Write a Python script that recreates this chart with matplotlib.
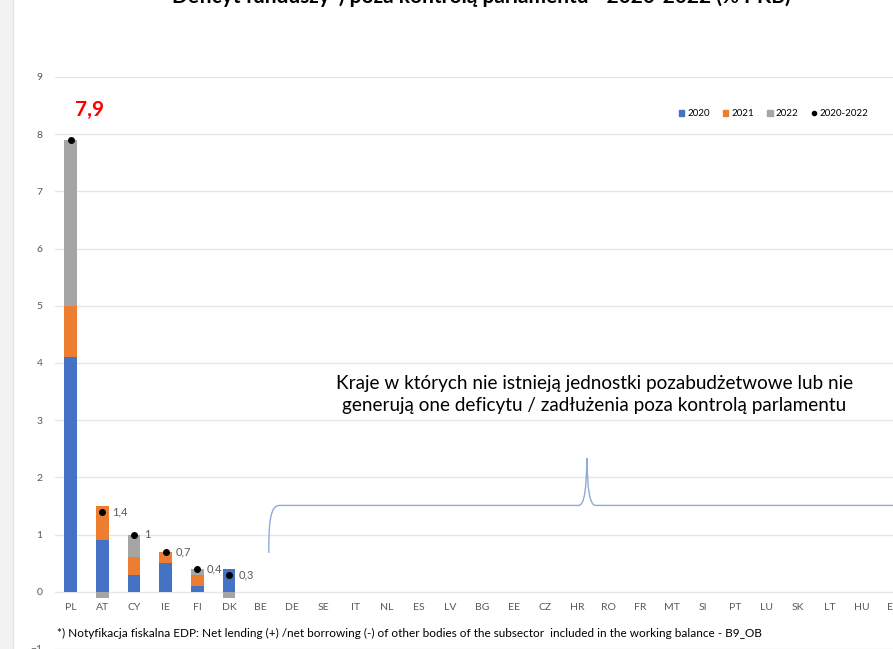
import matplotlib
matplotlib.use('Agg')
import matplotlib.pyplot as plt
from matplotlib.patches import Patch, Rectangle, PathPatch
from matplotlib.lines import Line2D
from matplotlib.path import Path
import numpy as np

plt.rcParams['font.family'] = ['Lato', 'DejaVu Sans']

countries = ['PL', 'AT', 'CY', 'IE', 'FI', 'DK', 'BE', 'DE', 'SE', 'IT', 'NL', 'ES', 'LV', 'BG',
             'EE', 'CZ', 'HR', 'RO', 'FR', 'MT', 'SI', 'PT', 'LU', 'SK', 'LT', 'HU', 'EL']
v2020 = [4.1, 0.9, 0.3, 0.5, 0.1, 0.4]
v2021 = [0.9, 0.6, 0.3, 0.2, 0.2, 0.0]
v2022 = [2.9, -0.1, 0.4, 0.0, 0.1, -0.1]
total = [7.9, 1.4, 1.0, 0.7, 0.4, 0.3]
total_labels = ['7,9', '1,4', '1', '0,7', '0,4', '0,3']

c2020 = '#4472C4'
c2021 = '#ED7D31'
c2022 = '#A5A5A5'
grey_txt = '#595959'

fig = plt.figure(figsize=(8.93, 6.49), dpi=100)
# gray strip of the screenshot on the left
fig.patches.append(Rectangle((0, 0), 13 / 893, 1, transform=fig.transFigure,
                             facecolor='#f2f2f2', edgecolor='none', zorder=0))
fig.lines.append(Line2D([13 / 893, 13 / 893], [0, 1], transform=fig.transFigure,
                        color='#e3e3e3', lw=1))

ax = fig.add_axes([55 / 893, 0.0, 1 - 55 / 893, 1 - 77 / 649])
ax.set_xlim(-0.5, 25.85)
ax.set_ylim(-1, 9)

n = len(v2020)
x = np.arange(n)
w = 0.4
a20 = np.array(v2020)
a21 = np.array(v2021)
a22 = np.array(v2022)
pos_bottom = np.zeros(n)
neg_bottom = np.zeros(n)
for vals, col in [(a20, c2020), (a21, c2021), (a22, c2022)]:
    bottoms = np.where(vals >= 0, pos_bottom, neg_bottom)
    ax.bar(x, vals, w, bottom=bottoms, color=col, zorder=3)
    pos_bottom = pos_bottom + np.where(vals > 0, vals, 0)
    neg_bottom = neg_bottom + np.where(vals < 0, vals, 0)

ax.plot(x, total, 'o', color='black', markersize=4, zorder=4)
for i in range(1, n):
    ax.annotate(total_labels[i], (x[i], total[i]), xytext=(7, 0), textcoords='offset points',
                fontsize=8, color=grey_txt, va='center', ha='left')
ax.text(0.6, 8.43, total_labels[0], color='red', fontsize=15, fontweight='bold',
        ha='center', va='center')

ax.set_yticks(range(-1, 10))
ax.set_xticks(range(len(countries)))
ax.set_xticklabels(countries)
ax.spines['bottom'].set_position(('data', 0))
for s in ['top', 'right', 'left', 'bottom']:
    ax.spines[s].set_visible(False)
ax.tick_params(axis='both', length=0, colors=grey_txt, labelsize=7.5)
ax.tick_params(axis='x', pad=8)
ax.tick_params(axis='y', pad=9)
ax.grid(axis='y', color='#e6e6e6', lw=1, zorder=0)
ax.set_axisbelow(True)

# brace marking countries without off-budget units
verts = [(6.26, 0.68), (6.26, 1.2), (6.3, 1.51), (6.6, 1.51),
         (16.05, 1.51),
         (16.25, 1.51), (16.3, 1.8), (16.32, 2.34),
         (16.34, 1.8), (16.4, 1.51), (16.6, 1.51),
         (26.5, 1.51)]
codes = [Path.MOVETO, Path.CURVE4, Path.CURVE4, Path.CURVE4,
         Path.LINETO,
         Path.CURVE4, Path.CURVE4, Path.CURVE4,
         Path.CURVE4, Path.CURVE4, Path.CURVE4,
         Path.LINETO]
ax.add_patch(PathPatch(Path(verts, codes), facecolor='none', edgecolor='#8FAADC', lw=1, zorder=3))

ax.text(16.55, 3.45, 'Kraje w których nie istnieją jednostki pozabudżetwowe lub nie\n'
        'generują one deficytu / zadłużenia poza kontrolą parlamentu',
        ha='center', va='center', fontsize=13.6, color='black', linespacing=1.3)

ax.text(-0.44, -0.72, '*) Notyfikacja fiskalna EDP: Net lending (+) /net borrowing (-) of other bodies '
        'of the subsector  included in the working balance - B9_OB',
        ha='left', va='center', fontsize=8.5, color='black')

handles = [Patch(color=c2020, label='2020'), Patch(color=c2021, label='2021'),
           Patch(color=c2022, label='2022'),
           Line2D([], [], marker='o', color='black', ls='none', markersize=3, label='2020-2022')]
ax.legend(handles=handles, ncol=4, frameon=False, fontsize=7, loc='center right',
          bbox_to_anchor=(25.5, 8.36), bbox_transform=ax.transData,
          handlelength=0.6, handleheight=0.6, handletextpad=0.3, columnspacing=1.3)

fig.text(481 / 893, 1 - 3 / 649, 'Deficyt funduszy*) poza kontrolą parlamentu - 2020-2022 (% PKB)',
         ha='center', va='baseline', fontsize=15, fontweight='bold', color='black')

fig.savefig('out.png', dpi=100)
